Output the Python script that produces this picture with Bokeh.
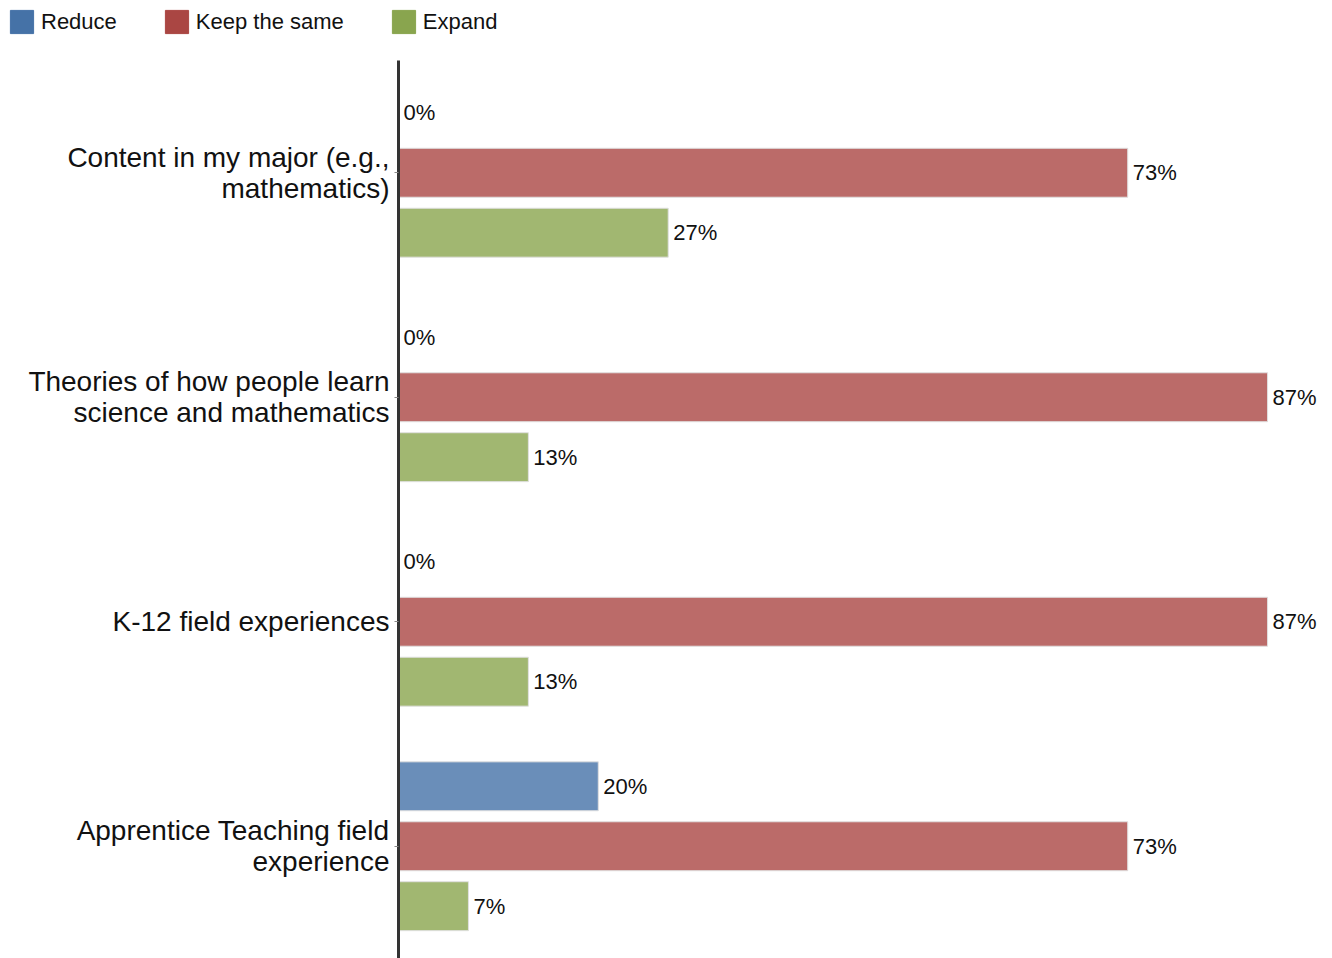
from bokeh.plotting import figure
from bokeh.models import ColumnDataSource, FactorRange, Range1d, Legend, LegendItem
from bokeh.layouts import column
from bokeh.transform import dodge
from bokeh.core.properties import value
from bokeh.embed import file_html
from bokeh.resources import INLINE

categories = [
    "Content in my major (e.g.,\nmathematics)",
    "Theories of how people learn\nscience and mathematics",
    "K-12 field experiences",
    "Apprentice Teaching field\nexperience",
]
reduce_vals = [0, 0, 0, 20]
keep_vals = [73, 87, 87, 73]
expand_vals = [27, 13, 13, 7]
series_names = ["Reduce", "Keep the same", "Expand"]

legend_colors = ["#4572A7", "#AA4643", "#89A54E"]
bar_colors = ["#6A8EB9", "#BB6B69", "#A1B771"]

src = ColumnDataSource(dict(
    cat=categories,
    reduce=reduce_vals,
    keep=keep_vals,
    expand=expand_vals,
    reduce_lbl=[f"{v}%" for v in reduce_vals],
    keep_lbl=[f"{v}%" for v in keep_vals],
    expand_lbl=[f"{v}%" for v in expand_vals],
))

# ---- legend strip ----
lf = figure(width=1332, height=60, x_range=Range1d(0, 1), y_range=Range1d(0, 1),
            output_backend="svg", toolbar_location=None,
            min_border_left=0, min_border_right=0, min_border_top=0, min_border_bottom=0)
lf.axis.visible = False
lf.grid.visible = False
lf.outline_line_color = None
proxies = []
for name, c in zip(series_names, legend_colors):
    pr = lf.rect(x=[-100], y=[-100], width=1, height=1, fill_color=c, line_color=c)
    proxies.append(pr)
legend = Legend(items=[LegendItem(label=n, renderers=[pr]) for n, pr in zip(series_names, proxies)],
                orientation="horizontal", location="top_left")
legend.glyph_width = 29
legend.glyph_height = 29
legend.label_standoff = 5
legend.spacing = 45
legend.padding = 7
legend.margin = 7
legend.border_line_color = None
legend.background_fill_alpha = 0
legend.label_text_font = "Liberation Sans"
legend.label_text_font_size = "22px"
legend.label_text_color = "#111111"
lf.add_layout(legend, "center")

# ---- main chart ----
p = figure(
    width=1332, height=898,
    y_range=FactorRange(*reversed(categories), range_padding=0),
    x_range=Range1d(0, 93.5),
    output_backend="svg", toolbar_location=None,
    min_border_left=398, min_border_right=0, min_border_top=0, min_border_bottom=0,
)

for fig in (lf, p):
    try:
        fig.frame_align = False
    except Exception:
        pass

offsets = [0.267, 0.0, -0.267]
cols = ["reduce", "keep", "expand"]
font = value("Liberation Sans")
for col, off, c in zip(cols, offsets, bar_colors):
    p.hbar(y=dodge("cat", off, range=p.y_range), left=0, right=col, height=0.218,
           source=src, fill_color=c, line_color="#e0e0e0", line_width=1)
    p.text(x=col, y=dodge("cat", off, range=p.y_range), text=col + "_lbl", source=src,
           x_offset=5, text_baseline="middle", text_align="left",
           text_font=font, text_font_size="22px", text_color="#111111")

p.xaxis.visible = False
p.xgrid.visible = False
p.ygrid.visible = False
p.outline_line_color = None

ya = p.yaxis[0]
ya.axis_line_color = "#333333"
ya.axis_line_width = 3
ya.major_tick_line_color = "#888888"
ya.major_tick_out = 4
ya.major_tick_in = 0
ya.minor_tick_line_color = None
ya.major_label_standoff = 5
ya.major_label_text_font = "Liberation Sans"
ya.major_label_text_font_size = "28px"
ya.major_label_text_line_height = 1.0
ya.major_label_text_color = "#111111"

layout = column(lf, p, spacing=0)
open("out.html", "w").write(file_html(layout, INLINE))
